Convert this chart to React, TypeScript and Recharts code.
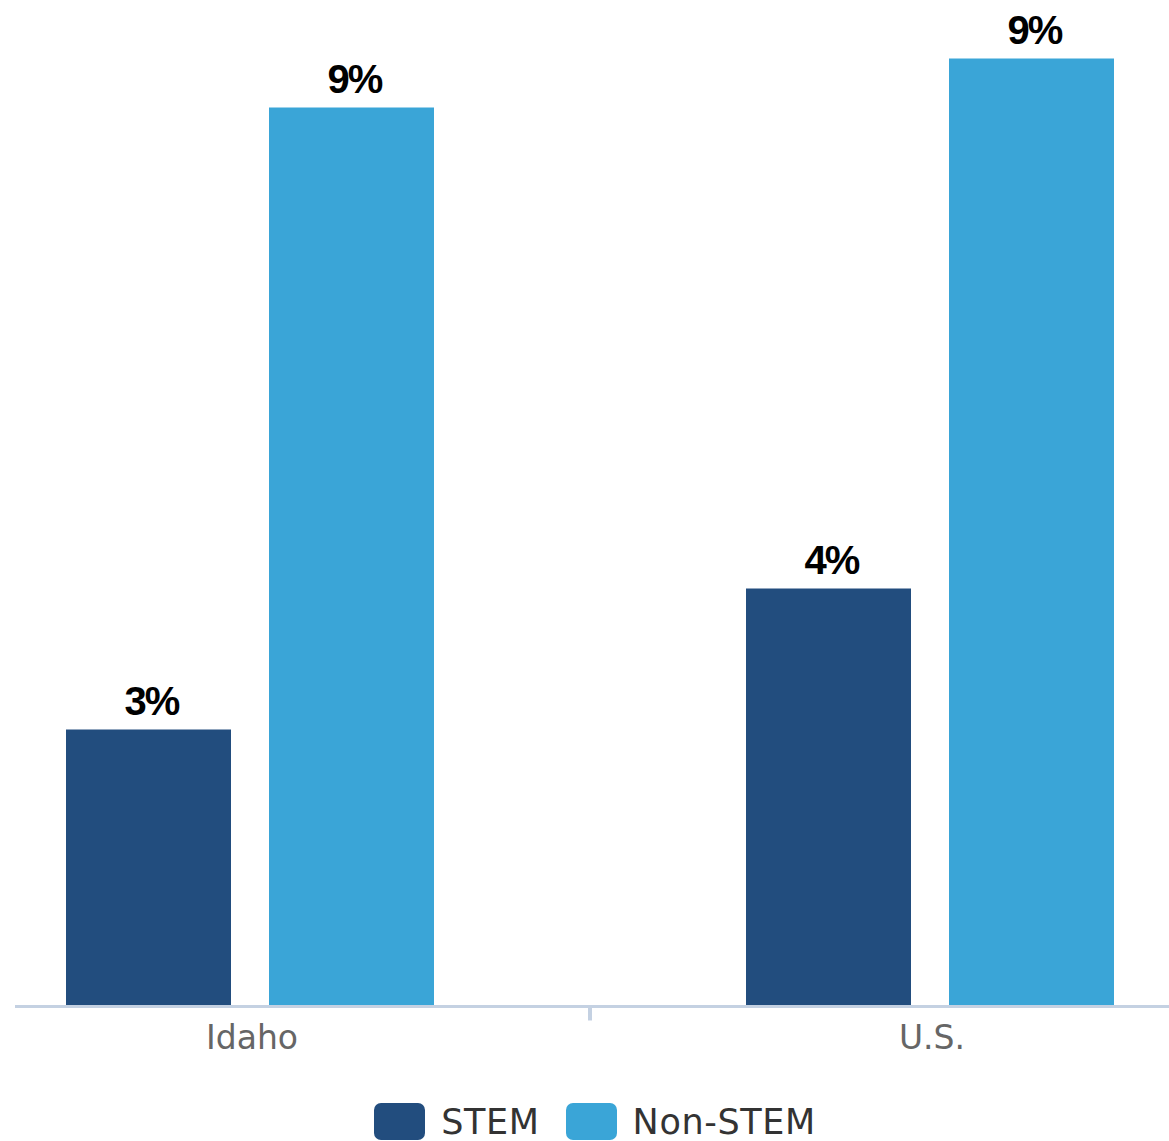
import React from 'react';
import { BarChart, Bar, XAxis, YAxis, Legend, LabelList } from 'recharts';

const regions = ['Idaho', 'U.S.'];
const stemShare = [2.77, 4.18];
const nonStemShare = [8.99, 9.48];

const seriesKeys = ['stem', 'nonStem'];
const seriesNames: Record<string, string> = { stem: 'STEM', nonStem: 'Non-STEM' };
const colors: Record<string, string> = { stem: '#224D7E', nonStem: '#3AA5D7' };

const data = regions.map((region, i) => ({
  region,
  stem: stemShare[i],
  nonStem: nonStemShare[i],
}));

const AXIS_COLOR = '#C4D1E2';

// category label plus the between-category tick mark (Highcharts style)
const RegionTick = ({ x, y, payload, index }: any) => {
  const half = payload && payload.offset ? payload.offset : 340;
  return (
    <g>
      <text
        x={x + 2}
        y={y + 40}
        textAnchor="middle"
        fill="#666666"
        fontSize={33}
        fontFamily="'DejaVu Sans', Verdana, sans-serif"
      >
        {payload.value}
      </text>
      {index === 0 && (
        <line x1={x + half} x2={x + half} y1={y - 2} y2={y + 12} stroke={AXIS_COLOR} strokeWidth={4} />
      )}
    </g>
  );
};

// data label above each bar
const ValueLabel = ({ x, y, width, value }: any) => (
  <text
    x={x + width / 2 + 3}
    y={y - 15}
    textAnchor="middle"
    fill="#000"
    fontSize={40}
    fontWeight="bold"
    letterSpacing={-2}
    fontFamily="'Liberation Sans', Arial, sans-serif"
  >
    {Math.round(value)}%
  </text>
);

// keep series order STEM, Non-STEM (recharts sorts legend items by name)
const LegendContent = ({ payload }: any) => {
  const items = seriesKeys.map((key) => {
    const found = (payload || []).find((p: any) => p.dataKey === key);
    return { key, label: seriesNames[key], color: found ? found.color : colors[key] };
  });
  return (
    <div
      style={{
        display: 'flex',
        justifyContent: 'center',
        alignItems: 'center',
        paddingLeft: 21,
        height: 38,
      }}
    >
      {items.map((item, i) => (
        <div key={item.key} style={{ display: 'flex', alignItems: 'center', marginLeft: i === 0 ? 0 : 26 }}>
          <div style={{ width: 51, height: 37, borderRadius: 7, background: item.color }} />
          <span
            style={{
              marginLeft: 16,
              fontSize: 35,
              letterSpacing: 0.6,
              color: '#333333',
              fontFamily: "'DejaVu Sans', Verdana, sans-serif",
              lineHeight: '36px',
              position: 'relative',
              top: 1,
            }}
          >
            {item.label}
          </span>
        </div>
      ))}
    </div>
  );
};

export default function App() {
  return (
    <div style={{ position: 'absolute', left: 0, top: 0, width: 1169, height: 1141, overflow: 'hidden', background: '#fff' }}>
      <BarChart
        width={1169}
        height={1141}
        data={data}
        margin={{ top: 6.5, right: 0, left: 15, bottom: 0 }}
        barSize={165}
        barGap={38}
      >
        <XAxis
          dataKey="region"
          height={96.5}
          padding={{ left: -105, right: -101 }}
          axisLine={{ stroke: AXIS_COLOR, strokeWidth: 3 }}
          tickLine={false}
          tickSize={0}
          tick={<RegionTick />}
          interval={0}
        />
        <YAxis hide domain={[0, 10]} />
        <Legend
          verticalAlign="bottom"
          content={<LegendContent />}
          wrapperStyle={{ left: 0, width: 1169, bottom: 1, height: 38 }}
        />
        <Bar dataKey="stem" name={seriesNames.stem} fill={colors.stem} isAnimationActive={false}>
          <LabelList dataKey="stem" content={<ValueLabel />} />
        </Bar>
        <Bar dataKey="nonStem" name={seriesNames.nonStem} fill={colors.nonStem} isAnimationActive={false}>
          <LabelList dataKey="nonStem" content={<ValueLabel />} />
        </Bar>
      </BarChart>
    </div>
  );
}
